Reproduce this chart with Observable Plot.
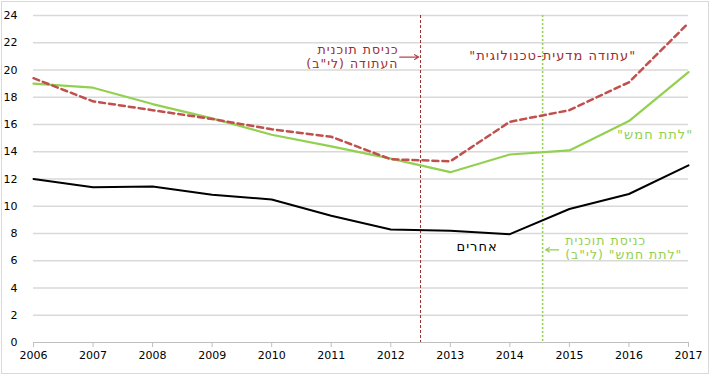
<!DOCTYPE html>
<html>
<head>
<meta charset="utf-8">
<script src="https://cdn.jsdelivr.net/npm/d3@7"></script>
<script src="https://cdn.jsdelivr.net/npm/@observablehq/plot@0.6"></script>
<style>
  body { margin: 0; background: #fff; }
  #chart svg { display: block; outline: 1px solid #d9d9d9; outline-offset: -2px; }
</style>
</head>
<body>
<div id="chart"></div>
<script>
const years = [2006, 2007, 2008, 2009, 2010, 2011, 2012, 2013, 2014, 2015, 2016, 2017];
const yTicks = [0, 2, 4, 6, 8, 10, 12, 14, 16, 18, 20, 22, 24];
// "עתודה מדעית-טכנולוגית" (red dashed)
const techTrack = [19.4, 17.7, 17.05, 16.4, 15.65, 15.1, 13.45, 13.3, 16.2, 17.05, 19.1, 23.45];
// "לתת חמש" (green)
const giveFive = [19.0, 18.7, 17.5, 16.45, 15.25, 14.4, 13.5, 12.5, 13.8, 14.1, 16.25, 19.85];
// אחרים (black)
const others = [12.0, 11.4, 11.45, 10.85, 10.5, 9.3, 8.3, 8.2, 7.95, 9.8, 10.9, 13.0];

const techLabel = "\"עתודה מדעית-טכנולוגית\"";
const fiveLabel = "\"לתת חמש\"";
const othersLabel = "אחרים";
const techEntry = "כניסת תוכנית\nהעתודה (לי\"ב)";
const fiveEntry = "כניסת תוכנית\n\"לתת חמש\" (לי\"ב)";
const techStartYear = 2012.5;
const fiveStartYear = 2014.55;

const toRows = (vals) => years.map((year, i) => ({year, value: vals[i]}));

const red = "#C0504D", darkRed = "#9B2D30", green = "#92D050";

const chart = Plot.plot({
  width: 710,
  height: 375,
  marginLeft: 33,
  marginRight: 22,
  marginTop: 15,
  marginBottom: 33,
  style: {fontFamily: "'DejaVu Sans', Verdana, sans-serif", fontSize: "11px", background: "#fff", color: "#000"},
  x: {domain: [2006, 2017], label: null},
  y: {domain: [0, 24], label: null},
  marks: [
    Plot.ruleY(yTicks.filter(d => d > 0), {stroke: "#d9d9d9", strokeWidth: 1.5}),
    Plot.ruleY([0], {stroke: "#bfbfbf", strokeWidth: 1}),
    Plot.axisX({ticks: years, tickFormat: d => String(d), tickSize: 5, tickPadding: 4, stroke: "#bfbfbf", color: "#000", label: null}),
    Plot.axisY({ticks: yTicks, tickSize: 0, tickPadding: 16, label: null}),
    Plot.ruleX([techStartYear], {stroke: darkRed, strokeWidth: 1, strokeDasharray: "3,2"}),
    Plot.ruleX([fiveStartYear], {stroke: green, strokeWidth: 1.5, strokeDasharray: "2,2"}),
    Plot.line(toRows(others), {x: "year", y: "value", stroke: "#000", strokeWidth: 2}),
    Plot.line(toRows(giveFive), {x: "year", y: "value", stroke: green, strokeWidth: 2.2}),
    Plot.line(toRows(techTrack), {x: "year", y: "value", stroke: red, strokeWidth: 2.5, strokeDasharray: "6,4"}),
    Plot.arrow([0], {x1: 2012.15, x2: 2012.47, y1: 20.95, y2: 20.95, stroke: "#B5474B", strokeWidth: 1.2, headLength: 6, bend: 0}),
    Plot.arrow([0], {x1: 2014.82, x2: 2014.6, y1: 6.8, y2: 6.8, stroke: green, strokeWidth: 1.2, headLength: 6, bend: 0}),
    Plot.text([techEntry], {x: 2012.13, y: 21.0, text: d => d, textAnchor: "start", fill: darkRed, fontSize: 12.5, lineHeight: 1.12}),
    Plot.text([techLabel], {x: 2014.72, y: 21.06, text: d => d, textAnchor: "middle", fill: darkRed, fontSize: 13}),
    Plot.text([fiveLabel], {x: 2016.44, y: 15.27, text: d => d, textAnchor: "middle", fill: green, fontSize: 13}),
    Plot.text([othersLabel], {x: 2013.45, y: 7.05, text: d => d, textAnchor: "middle", fill: "#000", fontSize: 13}),
    Plot.text([fiveEntry], {x: 2014.93, y: 6.94, text: d => d, textAnchor: "end", fill: green, fontSize: 12.5, lineHeight: 1.1})
  ]
});
chart.querySelectorAll("text").forEach(t => {
  if (/[\u0590-\u05FF]/.test(t.textContent)) {
    t.setAttribute("direction", "rtl");
    t.style.letterSpacing = "1px";
  }
});
document.getElementById("chart").appendChild(chart);
</script>
</body>
</html>
